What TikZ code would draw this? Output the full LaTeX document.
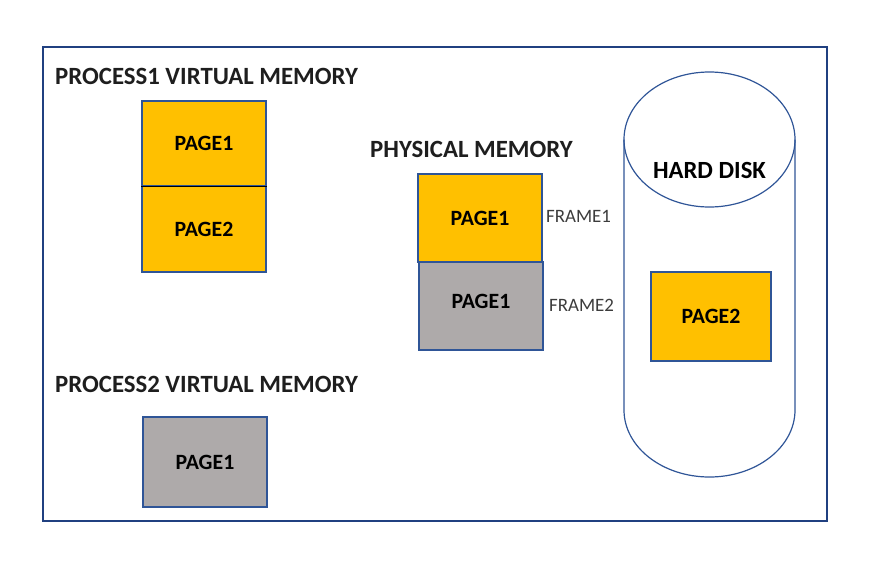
\documentclass[tikz,border=0pt]{standalone}
\usepackage{fontspec}
\setmainfont{Carlito}
\usetikzlibrary{positioning}
\definecolor{pageyellow}{RGB}{255,192,0}
\definecolor{pagegray}{RGB}{174,170,170}
\definecolor{boxblue}{RGB}{47,85,151}
\definecolor{framenavy}{RGB}{32,64,128}
\definecolor{titlegray}{RGB}{30,30,30}
\definecolor{labelgray}{RGB}{60,60,60}

\begin{document}
\begin{tikzpicture}[x=1pt,y=-1pt,
	title/.style={anchor=west,inner sep=0pt,text=titlegray,font=\bfseries\fontsize{24.8}{27}\selectfont},
	page/.style={draw=boxblue,line width=1.3pt,inner sep=0pt,text=black,font=\bfseries\fontsize{21.8}{24}\selectfont},
	ypage/.style={page,fill=pageyellow},
	gpage/.style={page,fill=pagegray},
	framelabel/.style={anchor=west,inner sep=0pt,text=labelgray,font=\fontsize{18.9}{21}\selectfont},
	disk/.style={draw=boxblue,line width=1.2pt}]
	\useasboundingbox (0,0) rectangle (878,574);
	% border
	\draw[framenavy,line width=2.4pt] (43,47) rectangle (827,521);
	% process 1
	\node[title] (p1title) at (55,76) {PROCESS1 VIRTUAL MEMORY};
	\node[ypage,minimum width=124pt,minimum height=85pt] (p1page1) at (204,143.5) {PAGE1};
	\node[ypage,minimum width=124pt,minimum height=86pt] (p1page2) at (204,229) {PAGE2};
	\draw[black,line width=1.5pt] (p1page1.south west) -- (p1page1.south east);
	% physical memory
	\node[title] (phystitle) at (370,149) {PHYSICAL MEMORY};
	\node[ypage,minimum width=124pt,minimum height=88pt] (frame1) at (480,218) {PAGE1};
	\node[gpage,minimum width=124pt,minimum height=88pt] (frame2) at (481,306) {\raisebox{9pt}{PAGE1}};
	\node[framelabel] (frame1lbl) at (546,216) {FRAME1};
	\node[framelabel] (frame2lbl) at (549,305) {FRAME2};
	% hard disk
	\draw[disk] (709.5,139.5) ellipse[x radius=85.5,y radius=67.5];
	\draw[disk] (624,139.5) -- (624,410) arc[start angle=180,end angle=0,x radius=85.5,y radius=67] -- (795,139.5);
	\node[inner sep=0pt,text=black,font=\bfseries\fontsize{24.7}{27}\selectfont] (disklbl) at (709.5,170) {HARD DISK};
	\node[ypage,minimum width=120pt,minimum height=89pt] (diskpage2) at (711,316.5) {PAGE2};
	% process 2
	\node[title] (p2title) at (55,384) {PROCESS2 VIRTUAL MEMORY};
	\node[gpage,minimum width=124pt,minimum height=90pt] (p2page1) at (205,462) {PAGE1};
\end{tikzpicture}
\end{document}
